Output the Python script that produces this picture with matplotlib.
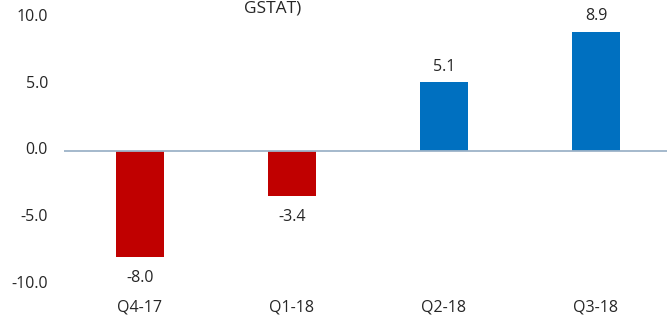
import matplotlib
matplotlib.use("Agg")
import matplotlib.pyplot as plt

categories = ["Q4-17", "Q1-18", "Q2-18", "Q3-18"]
values = [-8.0, -3.4, 5.1, 8.9]
colors = ["#C00000", "#C00000", "#0070C0", "#0070C0"]
yticks = [-10.0, -5.0, 0.0, 5.0, 10.0]
title_tail = "GSTAT)"

plt.rcParams['font.family'] = ['Open Sans', 'DejaVu Sans']
W, H = 667, 318
fig = plt.figure(figsize=(W/100, H/100), dpi=100)
ax = fig.add_axes([64/W, (H-284)/H, 608/W, 267/H])
x = list(range(len(categories)))
ax.bar(x, values, width=0.31, color=colors, zorder=2)
ax.set_xlim(-0.5, 3.5)
ax.set_ylim(-10, 10)
ax.axhline(0, color="#9DB3C8", lw=1.3, zorder=3)
for s in ax.spines.values():
    s.set_visible(False)
ax.set_xticks([])
ax.set_yticks([])
fs = 11.5
for t in yticks:
    fig.text(48/W, ax.transData.transform((0, t))[1]/H, f"{t:.1f}", ha="right", va="center",
             fontsize=fs, color="#262626")
for i, c in enumerate(categories):
    xf = ax.transData.transform((i, 0))[0]/W
    fig.text(xf, (H-307)/H, c, ha="center", va="center", fontsize=fs, color="#262626")
for i, v in enumerate(values):
    off = 11 if v >= 0 else -15
    ax.annotate(f"{v:.1f}", (i, v), xytext=(0, off), textcoords="offset points",
                ha="center", va="center", fontsize=fs, color="#262626", annotation_clip=False)
fig.text(273/W, (H-0.5)/H, title_tail, ha="center", va="top", fontsize=12.5, color="#262626")
fig.savefig("out.png", dpi=100)
